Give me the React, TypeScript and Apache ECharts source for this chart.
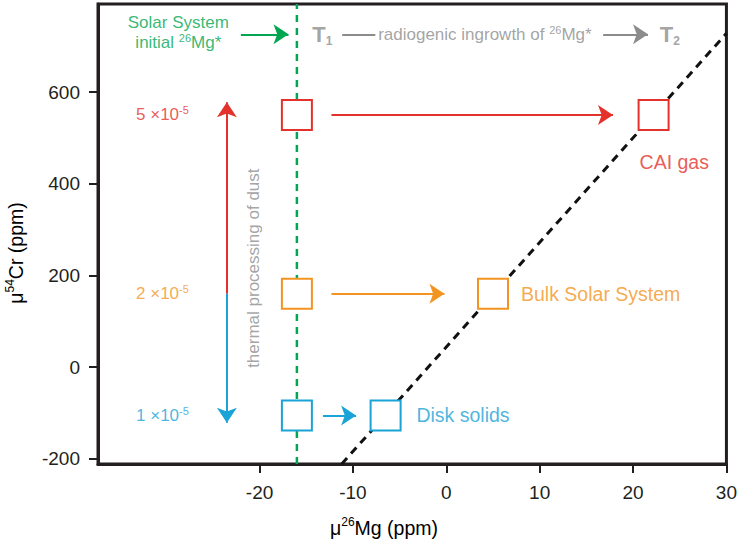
import React, { useEffect, useRef } from 'react';
import * as echarts from 'echarts';

// ---- data ----
const xRange = [-37.3, 30];
const yRange = [-211, 792];
const xTicks = [-20, -10, 0, 10, 20, 30];
const yTicks = [-200, 0, 200, 400, 600];

const reservoirNames = ['CAI gas', 'Bulk Solar System', 'Disk solids'];
const rates = ['5', '2', '1']; // x10^-5
const colors = ['#e4312b', '#f39422', '#1aa3d6'];
const green = '#00a652';
const gray = '#8c8c8c';

const initialMg = -16; // Solar System initial 26Mg*
const reservoirCr = [550, 160, -105];
const finalMg = [22.2, 5, -6.5];
const arrowStartMg = [-12.3, -12.3, -13.2];
const arrowEndMg = [17.85, -0.2, -9.66];
const nameLabelMg = [20.7, 8.0, -3.2];
const nameLabelCr = [447, 160, -105];
const rateLabelMg = -30.4;

const isochron = [[-11.2, -211], [30, 728]];
const thermalMg = -23.5;
const thermalCr = [578, 160, -121]; // top tip, colour split, bottom tip
const thermalLabel = [-20.6, 216];

const topCr = 726;
const greenArrowMg = [-22, -16.9];
const solarLabelMg = -28.7;
const t1Mg = -14.35;
const grayDashMg = [-11.15, -7.6];
const ingrowthLabelMg = -7.3;
const grayArrowMg = [16.8, 21.6];
const t2Mg = 22.86;

const FONT = 'Liberation Sans, Arial, sans-serif';

export default function App() {
  const ref = useRef<HTMLDivElement>(null);
  useEffect(() => {
    document.body.style.margin = '0';
    const chart = echarts.init(ref.current!, null, { renderer: 'svg' });
    const supRich = (color: string, size: number) => ({
      sup: { fontSize: Math.round(size * 0.62), verticalAlign: 'top', color, fontFamily: FONT, lineHeight: size * 0.75 },
      n: { fontSize: size, color, fontFamily: FONT, lineHeight: size * 1.2 },
    });
    const subRich = {
      t: { fontSize: 22, fontWeight: 'bold', color: gray, fontFamily: FONT, lineHeight: 26 },
      sub: { fontSize: 12, fontWeight: 'bold', color: gray, fontFamily: FONT, verticalAlign: 'bottom', lineHeight: 14 },
    };

    const arrowData: any[] = [];
    colors.forEach((c, i) => {
      arrowData.push({ coords: [[arrowStartMg[i], reservoirCr[i]], [arrowEndMg[i], reservoirCr[i]]], lineStyle: { color: c }, symbol: ['none', 'arrow'] });
    });
    arrowData.push({ coords: [[thermalMg, thermalCr[1]], [thermalMg, thermalCr[0]]], lineStyle: { color: colors[0] }, symbol: ['none', 'arrow'] });
    arrowData.push({ coords: [[thermalMg, thermalCr[1]], [thermalMg, thermalCr[2]]], lineStyle: { color: colors[2] }, symbol: ['none', 'arrow'] });
    arrowData.push({ coords: [[greenArrowMg[0], topCr], [greenArrowMg[1], topCr]], lineStyle: { color: green }, symbol: ['none', 'arrow'] });
    arrowData.push({ coords: [[grayDashMg[0], topCr], [grayDashMg[1], topCr]], lineStyle: { color: gray }, symbol: ['none', 'none'] });
    arrowData.push({ coords: [[grayArrowMg[0], topCr], [grayArrowMg[1], topCr]], lineStyle: { color: gray }, symbol: ['none', 'arrow'] });

    const boxes: any[] = [];
    colors.forEach((c, i) => {
      boxes.push({ value: [initialMg, reservoirCr[i]], itemStyle: { borderColor: c } });
      boxes.push({ value: [finalMg[i], reservoirCr[i]], itemStyle: { borderColor: c } });
    });

    const labels: any[] = [];
    reservoirNames.forEach((n, i) => {
      labels.push({ value: [nameLabelMg[i], nameLabelCr[i]], label: { formatter: n, color: colors[i], fontSize: 19.5, position: 'right' } });
      labels.push({
        value: [rateLabelMg, reservoirCr[i]],
        label: { formatter: `{n|${rates[i]} ×10}{sup|-5}`, rich: supRich(colors[i], 17), position: 'inside' },
      });
    });
    labels.push({
      value: [solarLabelMg, topCr + 4],
      label: { formatter: '{n|Solar System}\n{n|initial }{sup|26}{n|Mg*}', rich: supRich(green, 17), position: 'inside', align: 'center' },
    });
    labels.push({ value: [t1Mg, topCr], label: { formatter: '{t|T}{sub|1}', rich: subRich, position: 'right' } });
    labels.push({ value: [t2Mg, topCr], label: { formatter: '{t|T}{sub|2}', rich: subRich, position: 'right' } });
    labels.push({
      value: [ingrowthLabelMg, topCr],
      label: { formatter: '{n|radiogenic ingrowth of }{sup|26}{n|Mg*}', rich: supRich(gray, 17), position: 'right' },
    });
    labels.push({
      value: thermalLabel,
      label: { formatter: 'thermal processing of dust', color: gray, fontSize: 17, rotate: 90, position: 'inside' },
    });

    const axisTextColor = '#231f20';
    chart.setOption({
      animation: false,
      grid: { left: 98, right: 11, top: 4, bottom: 80, show: true, borderColor: '#231f20', borderWidth: 3, backgroundColor: 'transparent' },
      xAxis: {
        type: 'value', min: xRange[0], max: xRange[1],
        axisLine: { show: true, onZero: false, lineStyle: { color: '#231f20', width: 3 } },
        axisTick: { show: true, length: 9, lineStyle: { width: 2, color: '#231f20' }, customValues: xTicks },
        axisLabel: { customValues: xTicks, fontSize: 19, color: axisTextColor, fontFamily: FONT, margin: 19 },
        splitLine: { show: false },
      },
      yAxis: {
        type: 'value', min: yRange[0], max: yRange[1],
        axisLine: { show: true, onZero: false, lineStyle: { color: '#231f20', width: 3 } },
        axisTick: { show: true, length: 9, lineStyle: { width: 2, color: '#231f20' }, customValues: yTicks },
        axisLabel: { customValues: yTicks, fontSize: 19, color: axisTextColor, fontFamily: FONT, margin: 18 },
        splitLine: { show: false },
      },
      graphic: [
        {
          type: 'text', x: 384, y: 528,
          style: { text: '{n|μ}{sup|26}{n|Mg (ppm)}', rich: supRich('#231f20', 19.5), align: 'center', verticalAlign: 'middle' },
        },
        {
          type: 'text', x: 16, y: 253, rotation: Math.PI / 2,
          style: { text: '{n|μ}{sup|54}{n|Cr (ppm)}', rich: supRich('#231f20', 19.5), align: 'center', verticalAlign: 'middle' },
        },
      ],
      series: [
        {
          type: 'line', data: [[initialMg, yRange[0]], [initialMg, yRange[1]]], symbol: 'none', z: 1,
          lineStyle: { color: green, width: 2.5, type: [7, 6] },
        },
        {
          type: 'line', data: isochron, symbol: 'none', z: 1,
          lineStyle: { color: '#111', width: 3, type: [8, 6] },
        },
        {
          type: 'lines', coordinateSystem: 'cartesian2d', z: 2, symbolSize: [15, 15],
          lineStyle: { width: 2, opacity: 1, curveness: 0 },
          data: arrowData,
        },
        {
          type: 'scatter', symbol: 'rect', symbolSize: 30, z: 3, data: boxes,
          itemStyle: { color: '#fff', borderWidth: 2, opacity: 1 },
        },
        {
          type: 'scatter', symbolSize: 0, z: 4, data: labels, silent: true,
          label: { show: true, distance: 0, fontFamily: FONT },
        },
      ],
    });
    return () => chart.dispose();
  }, []);
  return <div ref={ref} style={{ position: 'absolute', left: 0, top: 0, width: 740, height: 544 }} />;
}
